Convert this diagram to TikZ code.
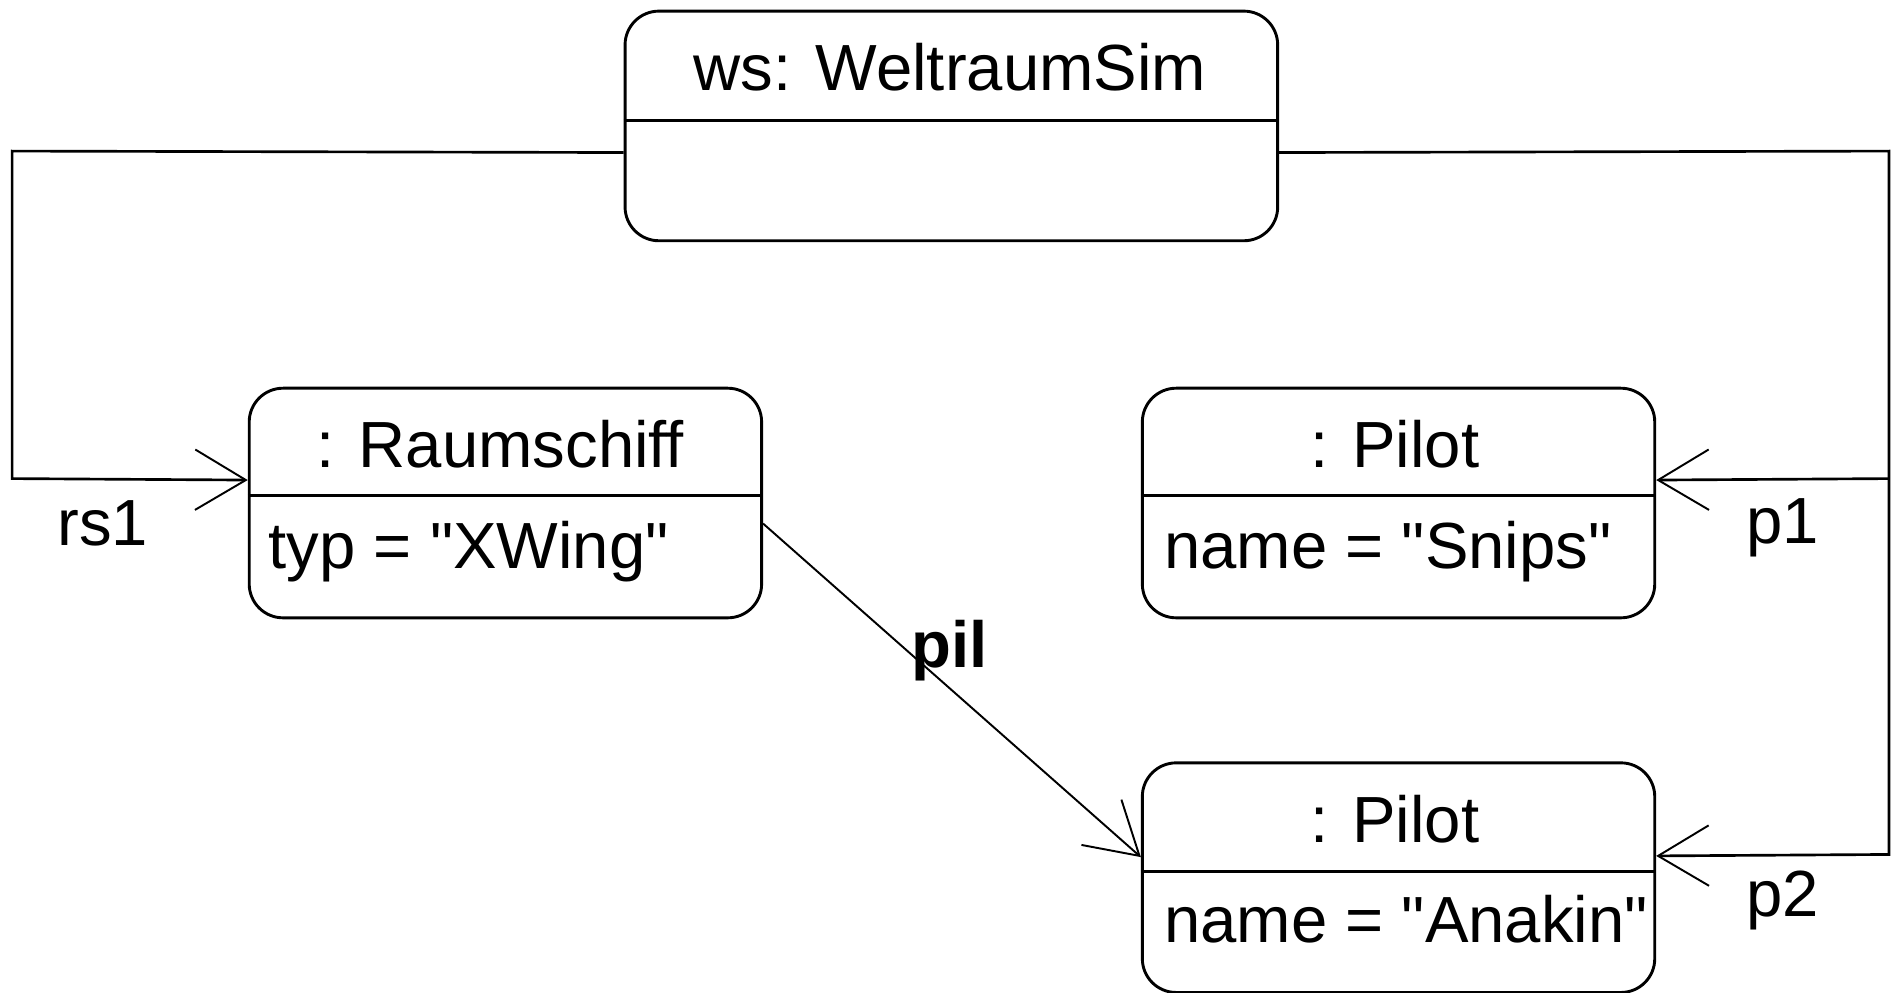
\documentclass[tikz,border=0pt]{standalone}
\usepackage{fontspec}
\setmainfont{Liberation Sans}[Ligatures=TeXOff]
\usetikzlibrary{arrows.meta}
\begin{document}
\begin{tikzpicture}[x=0.5pt,y=-0.5pt,
  obj/.style={draw, line width=1.2pt, rounded corners=14pt, inner sep=0pt, anchor=north west},
  txt/.style={font=\fontsize{27}{32}\selectfont, inner sep=0pt},
  sep/.style={line width=1.2pt},
  assoc/.style={line width=1.1pt, -{Straight Barb[length=21pt,width=25pt,line width=0.8pt]}},
  pilline/.style={line width=0.8pt, -{Straight Barb[length=21pt,width=25pt,line width=0.8pt]}}]
\useasboundingbox[fill=white] (0,0) rectangle (1568,821);

% boxes
\node[obj, minimum width=270pt, minimum height=95pt] (ws) at (516,8) {};
\draw[sep] (ws.west |- 0,100) -- (ws.east |- 0,100);
\node[txt, anchor=base] (wsT) at (786,75) {ws: WeltraumSim};

\node[obj, minimum width=212pt, minimum height=95pt] (raum) at (205,320) {};
\draw[sep] (raum.west |- 0,410) -- (raum.east |- 0,410);
\node[txt, anchor=base] (raumT) at (414,387) {: Raumschiff};
\node[txt, anchor=base west] (raumA) at (222,470) {typ = "XWing"};

\node[obj, minimum width=212pt, minimum height=95pt] (p1) at (944,320) {};
\draw[sep] (p1.west |- 0,410) -- (p1.east |- 0,410);
\node[txt, anchor=base] (p1T) at (1154,387) {: Pilot};
\node[txt, anchor=base west] (p1A) at (963,470) {name = "Snips"};

\node[obj, minimum width=212pt, minimum height=95pt] (p2) at (944,630) {};
\draw[sep] (p2.west |- 0,721) -- (p2.east |- 0,721);
\node[txt, anchor=base] (p2T) at (1154,697) {: Pilot};
\node[txt, anchor=base west] (p2A) at (963,780) {name = "Anakin"};

% routing points
\coordinate (lt) at (10,125);
\coordinate (lb) at (10,396);
\coordinate (rt) at (1563,125);
\coordinate (rm) at (1563,396);
\coordinate (rb) at (1563,707);

% connectors
\draw[assoc] ([yshift=-11pt]ws.west) -- (lt) -- (lb) -- ([yshift=9.5pt]raum.west);
\draw[assoc] ([yshift=-11pt]ws.east) -- (rt) -- (rb) -- ([yshift=9pt]p2.east);
\draw[assoc] (rm) -- ([yshift=9.5pt]p1.east);
\draw[pilline] ([yshift=-8.5pt]raum.east) -- ([yshift=8.5pt]p2.west);

% labels
\node[txt] (rs1) at (85,433) {rs1};
\node[txt] (lp1) at (1475,437) {p1};
\node[txt] (lp2) at (1475,745) {p2};
\node[txt] (pil) at (786,538) {\textbf{pil}};
\end{tikzpicture}
\end{document}
